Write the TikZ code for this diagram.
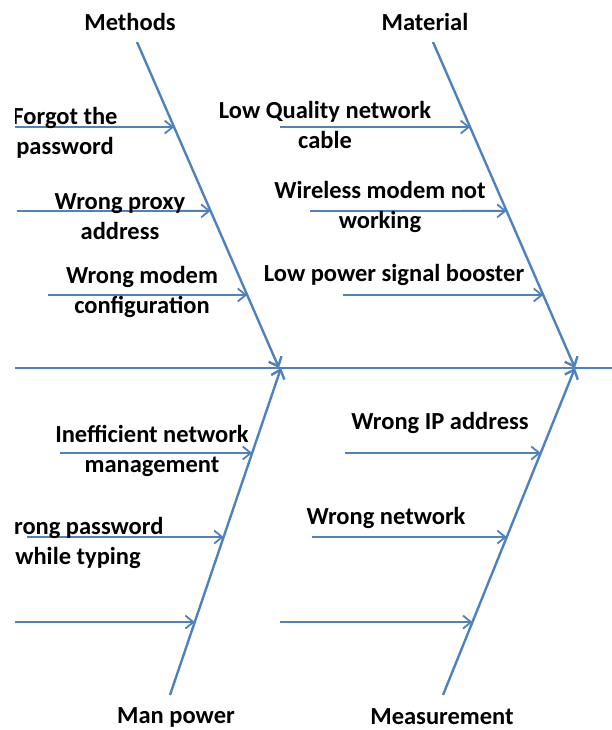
\documentclass[tikz,border=0pt]{standalone}
\usepackage{fontspec}
\setmainfont{Carlito}
\usetikzlibrary{arrows.meta,calc}
\definecolor{boneblue}{RGB}{79,129,189}
\tikzset{
  bone/.style={color=boneblue, line width=2.4pt, -{Straight Barb[length=8pt,width=14pt]}},
  rib/.style={color=boneblue, line width=1.8pt, -{Straight Barb[length=8pt,width=13pt]}},
  cause/.style={font=\bfseries\fontsize{24.5}{30}\selectfont, align=center, text=black, inner sep=0pt},
}

\begin{document}
\begin{tikzpicture}[x=1pt,y=-1pt]
\useasboundingbox (0,0) rectangle (612,730);
\clip (15,0) rectangle (612,730);

% spine
\coordinate (spineL) at (15,368);
\coordinate (spineR) at (612,368);
\draw[color=boneblue, line width=2.4pt] (spineL) -- (spineR);

% heads
\node[cause] (methods) at (130,22) {Methods};
\node[cause] (material) at (425,22) {Material};
\node[cause] (manpower) at (176,717) {Man power};
\node[cause] (measure) at (442,717) {Measurement};

% bones
\coordinate (mTop) at (137,42);   \coordinate (mEnd) at (279,368);
\coordinate (tTop) at (433,42);   \coordinate (tEnd) at (575,368);
\coordinate (pBot) at (170,695);  \coordinate (pEnd) at (281,368);
\coordinate (sBot) at (443,695);  \coordinate (sEnd) at (575,368);
\draw[bone] (mTop) -- (mEnd);
\draw[bone] (tTop) -- (tEnd);
\draw[bone] (pBot) -- (pEnd);
\draw[bone] (sBot) -- (sEnd);

% points on the bones
\coordinate (m1) at ($(mTop)!0.261!(mEnd)$);
\coordinate (m2) at ($(mTop)!0.518!(mEnd)$);
\coordinate (m3) at ($(mTop)!0.776!(mEnd)$);
\coordinate (t1) at ($(tTop)!0.261!(tEnd)$);
\coordinate (t2) at ($(tTop)!0.518!(tEnd)$);
\coordinate (t3) at ($(tTop)!0.776!(tEnd)$);
\coordinate (p1) at ($(pBot)!0.740!(pEnd)$);
\coordinate (p2) at ($(pBot)!0.483!(pEnd)$);
\coordinate (p3) at ($(pBot)!0.223!(pEnd)$);
\coordinate (s1) at ($(sBot)!0.740!(sEnd)$);
\coordinate (s2) at ($(sBot)!0.483!(sEnd)$);
\coordinate (s3) at ($(sBot)!0.223!(sEnd)$);

% free ends of the ribs
\coordinate (m1s) at (15,127);  \coordinate (m2s) at (17,211);  \coordinate (m3s) at (48,295);
\coordinate (t1s) at (280,127); \coordinate (t2s) at (310,211); \coordinate (t3s) at (343,295);
\coordinate (p1s) at (60,453);  \coordinate (p2s) at (27,537);  \coordinate (p3s) at (15,622);
\coordinate (s1s) at (345,453); \coordinate (s2s) at (312,537); \coordinate (s3s) at (280,622);

\draw[rib] (m1s) -- (m1);
\draw[rib] (m2s) -- (m2);
\draw[rib] (m3s) -- (m3);
\draw[rib] (t1s) -- (t1);
\draw[rib] (t2s) -- (t2);
\draw[rib] (t3s) -- (t3);
\draw[rib] (p1s) -- (p1);
\draw[rib] (p2s) -- (p2);
\draw[rib] (p3s) -- (p3);
\draw[rib] (s1s) -- (s1);
\draw[rib] (s2s) -- (s2);
\draw[rib] (s3s) -- (s3);

% causes
\node[cause] (forgot) at (65,133) {Forgot the\\password};
\node[cause] (proxy) at (120,217) {Wrong proxy\\address};
\node[cause] (config) at (142,292) {Wrong modem\\configuration};
\node[cause] (cable) at (325,125) {Low Quality network\\cable};
\node[cause] (wireless) at (380,207) {Wireless modem not\\working};
\node[cause] (booster) at (394,275) {Low power signal booster};
\node[cause] (netmgmt) at (152,451) {Inefficient network\\management};
\node[cause] (typing) at (78,543) {Wrong password\\while typing};
\node[cause] (ipaddr) at (440,423) {Wrong IP address};
\node[cause] (network) at (386,518) {Wrong network};

\end{tikzpicture}
\end{document}
